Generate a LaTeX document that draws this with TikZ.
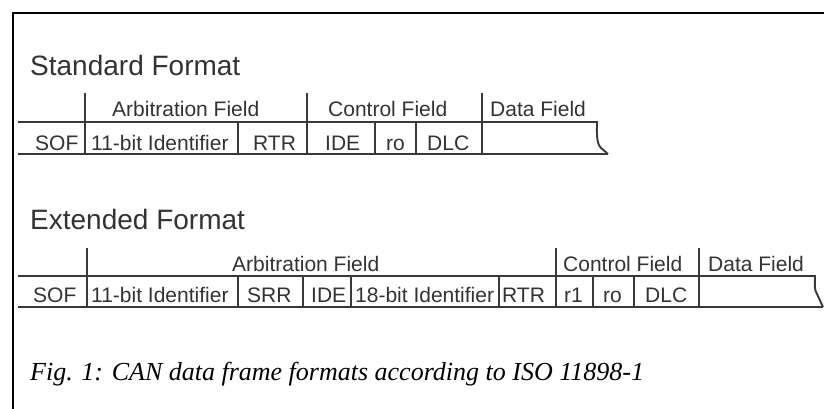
\documentclass[tikz,border=0pt]{standalone}
\usepackage{fontspec}
\setmainfont{Liberation Sans}
\newfontfamily\capfont{Liberation Serif}
\definecolor{ink}{HTML}{333333}
\definecolor{rulec}{HTML}{3a3a3a}
\tikzset{
  lbl/.style={anchor=base west, inner sep=0pt, text=ink, font=\fontsize{21}{21}\selectfont},
  ttl/.style={anchor=base west, inner sep=0pt, text=ink, font=\fontsize{28}{28}\selectfont},
  figcap/.style={anchor=base west, inner sep=0pt, text=black, font=\capfont\itshape\fontsize{26}{26}\selectfont},
  rulel/.style={draw=rulec, line width=1.9pt},
  frameline/.style={draw=black, line width=2.6pt}
}
\begin{document}
\begin{tikzpicture}[x=1pt,y=-1pt]
\useasboundingbox (0,0) rectangle (824,409);
% frame
\draw[frameline] (13,409) -- (13,13) -- (824,13);

% ---------- Standard format ----------
\node[ttl] (stdtitle) at (30,76) {Standard Format};
\draw[rulel] (18,122) -- (597,122)
  .. controls (597,132) and (596,143) .. (601,148) -- (608,154);
\draw[rulel] (18,154) -- (608,154);
% tall dividers
\foreach \x in {85,307,482} \draw[rulel] (\x,93) -- (\x,154);
% short dividers
\foreach \x in {238,375,416} \draw[rulel] (\x,122) -- (\x,154);
\node[lbl] (sarb) at (112,117) {Arbitration Field};
\node[lbl] (sctl) at (328,117) {Control Field};
\node[lbl] (sdat) at (490,117) {Data Field};
\node[lbl] (ssof) at (35,150) {SOF};
\node[lbl] (sid)  at (91,150) {11-bit Identifier};
\node[lbl] (srtr) at (253,150) {RTR};
\node[lbl] (side) at (325,150) {IDE};
\node[lbl] (sro)  at (386,150) {ro};
\node[lbl] (sdlc) at (427,150) {DLC};

% ---------- Extended format ----------
\node[ttl] (exttitle) at (30,229) {Extended Format};
\draw[rulel] (18,276) -- (815,276)
  .. controls (815,284) and (814,290) .. (817,294) -- (823,307);
\draw[rulel] (18,307) -- (823,307);
\foreach \x in {87,556,699} \draw[rulel] (\x,248) -- (\x,307);
\foreach \x in {238,303,351,499,593,634} \draw[rulel] (\x,276) -- (\x,307);
\node[lbl] (earb) at (232,271) {Arbitration Field};
\node[lbl] (ectl) at (563,271) {Control Field};
\node[lbl] (edat) at (708,271) {Data Field};
\node[lbl] (esof) at (33,302) {SOF};
\node[lbl] (eid)  at (91,302) {11-bit Identifier};
\node[lbl] (esrr) at (247,302) {SRR};
\node[lbl] (eide) at (311,302) {IDE};
\node[lbl] (eid2) at (355,302) {18-bit Identifier};
\node[lbl] (ertr) at (502,302) {RTR};
\node[lbl] (er1)  at (564,302) {r1};
\node[lbl] (ero)  at (603,302) {ro};
\node[lbl] (edlc) at (645,302) {DLC};

% caption
\node[figcap] (caption) at (30,380) {Fig. 1: CAN data frame formats according to ISO 11898-1};
\end{tikzpicture}
\end{document}
